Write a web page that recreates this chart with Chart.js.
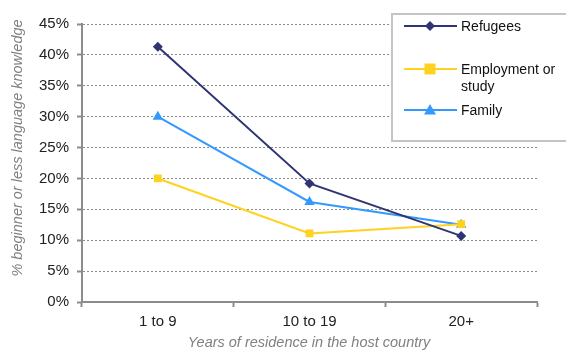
<!DOCTYPE html>
<html>
<head>
<meta charset="utf-8">
<script src="https://cdn.jsdelivr.net/npm/chart.js@4/dist/chart.umd.min.js"></script>
<style>
  html, body { margin: 0; padding: 0; background: #fff; }
  #wrap { width: 566px; height: 351px; position: relative; }
</style>
</head>
<body>
<div id="wrap"><canvas id="c" width="566" height="351"></canvas></div>
<script>
// Share of migrants with beginner-level (or lower) host-language knowledge,
// by years of residence and reason for migration.
const categories = ['1 to 9', '10 to 19', '20+'];
const refugees = [41.3, 19.2, 10.7];
const employmentOrStudy = [20.0, 11.1, 12.6];
const family = [30.0, 16.2, 12.5];
const yTicks = [0, 5, 10, 15, 20, 25, 30, 35, 40, 45];

const seriesStyle = [
  { label: 'Refugees', lines: ['Refugees'], data: refugees, color: '#2E3572', marker: 'rectRot', radius: 5, ly: 26 },
  { label: 'Employment or study', lines: ['Employment or', 'study'], data: employmentOrStudy, color: '#FFD21F', marker: 'rect', radius: 5.5, ly: 69 },
  { label: 'Family', lines: ['Family'], data: family, color: '#3399FF', marker: 'triangle', radius: 6, ly: 110 }
];

const FONT = '"Liberation Sans", Arial, sans-serif';

function marker(ctx, type, x, y, r, color) {
  ctx.save();
  ctx.fillStyle = color;
  ctx.beginPath();
  if (type === 'rectRot') {
    ctx.moveTo(x, y - r); ctx.lineTo(x + r, y); ctx.lineTo(x, y + r); ctx.lineTo(x - r, y);
  } else if (type === 'rect') {
    ctx.rect(x - r, y - r, 2 * r, 2 * r);
  } else {
    ctx.moveTo(x, y - r); ctx.lineTo(x + r, y + r * 0.75); ctx.lineTo(x - r, y + r * 0.75);
  }
  ctx.closePath();
  ctx.fill();
  ctx.restore();
}

const decorations = {
  id: 'decorations',
  afterDraw(chart) {
    const ctx = chart.ctx;
    ctx.save();
    // axis titles
    ctx.fillStyle = '#808080';
    ctx.font = 'italic 14.5px ' + FONT;
    ctx.textAlign = 'center';
    ctx.textBaseline = 'middle';
    ctx.fillText('Years of residence in the host country', 309, 343);
    ctx.save();
    ctx.translate(18, 148);
    ctx.rotate(-Math.PI / 2);
    ctx.fillText('% beginner or less language knowledge', 0, 0);
    ctx.restore();

    // legend box
    ctx.fillStyle = '#ffffff';
    ctx.fillRect(392, 14, 190, 127);
    ctx.strokeStyle = '#c4c4c4';
    ctx.lineWidth = 2;
    ctx.strokeRect(392, 14, 190, 127);
    ctx.font = '14px ' + FONT;
    ctx.textAlign = 'left';
    seriesStyle.forEach(s => {
      ctx.strokeStyle = s.color;
      ctx.lineWidth = 2;
      ctx.beginPath();
      ctx.moveTo(404, s.ly);
      ctx.lineTo(457, s.ly);
      ctx.stroke();
      marker(ctx, s.marker, 430, s.ly, s.radius, s.color);
      ctx.fillStyle = '#111';
      s.lines.forEach((t, i) => ctx.fillText(t, 461, s.ly + 1 + i * 17));
    });
    ctx.restore();
  }
};

new Chart(document.getElementById('c'), {
  type: 'line',
  data: {
    labels: categories,
    datasets: seriesStyle.map(s => ({
      label: s.label,
      data: s.data,
      borderColor: s.color,
      backgroundColor: s.color,
      borderWidth: 2,
      pointStyle: s.marker,
      pointRadius: s.radius,
      pointBorderWidth: 0,
      tension: 0
    }))
  },
  options: {
    responsive: false,
    animation: false,
    devicePixelRatio: 1,
    layout: { padding: { top: 24, right: 29, left: 0, bottom: 0 } },
    plugins: { legend: { display: false }, tooltip: { enabled: false } },
    scales: {
      x: {
        offset: true,
        grid: { offset: true, drawOnChartArea: false, drawTicks: true, tickLength: 5, tickColor: '#8c8c8c', tickWidth: 2 },
        border: { color: '#8c8c8c', width: 2 },
        ticks: { color: '#222', font: { family: FONT, size: 15 }, padding: 6 },
        afterFit(scale) { scale.height = 49; }
      },
      y: {
        min: 0, max: 45,
        afterBuildTicks(scale) { scale.ticks = yTicks.map(v => ({ value: v })); },
        grid: {
          color: ctx => ctx.tick && ctx.tick.value === 0 ? 'rgba(0,0,0,0)' : '#8a8a8a',
          lineWidth: 1,
          tickColor: '#8c8c8c',
          tickWidth: 2,
          tickLength: 5,
          tickBorderDash: [],
          drawTicks: true
        },
        // dashed horizontal gridlines, solid axis line
        border: { color: '#8c8c8c', width: 2, dash: [2, 2] },
        ticks: {
          color: '#222',
          font: { family: FONT, size: 15 },
          padding: 8,
          callback: v => v + '%'
        },
        afterFit(scale) { scale.width = 82; }
      }
    }
  },
  plugins: [decorations]
});
</script>
</body>
</html>
